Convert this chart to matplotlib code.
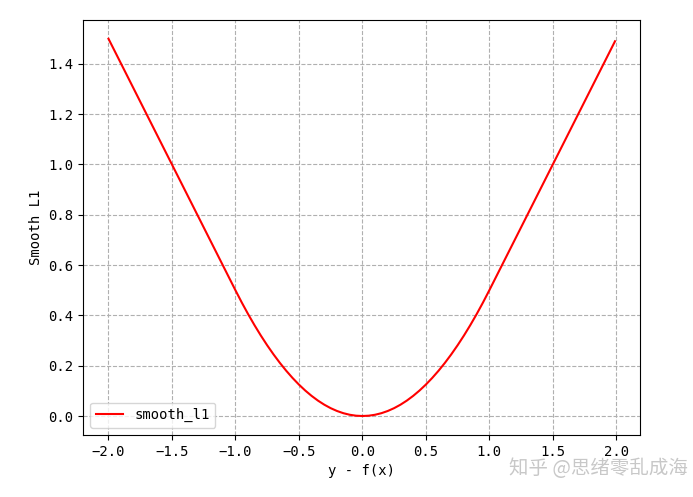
import matplotlib
matplotlib.use("Agg")
import matplotlib.pyplot as plt

x_vals = [-2.0, -1.9, -1.8, -1.7, -1.6, -1.5, -1.4, -1.3, -1.2, -1.1, -1.0,
          -0.95, -0.9, -0.85, -0.8, -0.75, -0.7, -0.65, -0.6, -0.55, -0.5,
          -0.45, -0.4, -0.35, -0.3, -0.25, -0.2, -0.15, -0.1, -0.05, 0.0,
          0.05, 0.1, 0.15, 0.2, 0.25, 0.3, 0.35, 0.4, 0.45, 0.5,
          0.55, 0.6, 0.65, 0.7, 0.75, 0.8, 0.85, 0.9, 0.95, 1.0,
          1.1, 1.2, 1.3, 1.4, 1.5, 1.6, 1.7, 1.8, 1.9, 1.99]
y_vals = [1.5, 1.4, 1.3, 1.2, 1.1, 1.0, 0.9, 0.8, 0.7, 0.6, 0.5,
          0.45125, 0.405, 0.36125, 0.32, 0.28125, 0.245, 0.21125, 0.18, 0.15125, 0.125,
          0.10125, 0.08, 0.06125, 0.045, 0.03125, 0.02, 0.01125, 0.005, 0.00125, 0.0,
          0.00125, 0.005, 0.01125, 0.02, 0.03125, 0.045, 0.06125, 0.08, 0.10125, 0.125,
          0.15125, 0.18, 0.21125, 0.245, 0.28125, 0.32, 0.36125, 0.405, 0.45125, 0.5,
          0.6, 0.7, 0.8, 0.9, 1.0, 1.1, 1.2, 1.3, 1.4, 1.49]

plt.rcParams['font.family'] = ['DejaVu Sans Mono']
plt.rcParams['axes.unicode_minus'] = True

fig = plt.figure(figsize=(6.93, 4.97), dpi=100)
ax = fig.add_axes([0.12, 0.125, 0.804, 0.835])
ax.plot(x_vals, y_vals, color='red', label='smooth_l1', linewidth=1.5)
ax.grid(True, linestyle='--', color='#b0b0b0', linewidth=0.8)
ax.set_xlabel('y - f(x)', fontsize=10)
ax.set_ylabel('Smooth L1', fontsize=10)
ax.tick_params(labelsize=10)
ax.legend(loc='lower left', fontsize=10)

fig.text(0.735, 0.058, '知乎 @思绪零乱成海', fontsize=14, color='#c8c8c8',
         va='center', family=['Noto Sans CJK SC', 'DejaVu Sans'])

fig.savefig('out.png', dpi=100)
